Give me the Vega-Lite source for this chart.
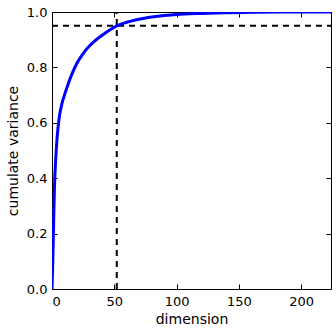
{
  "$schema": "https://vega.github.io/schema/vega-lite/v6.json",
  "width": 279,
  "height": 277,
  "autosize": {"type": "none"},
  "padding": {"left": 52, "top": 12, "right": 5, "bottom": 45},
  "background": "white",
  "config": {
    "view": {"stroke": "black", "strokeWidth": 1},
    "font": "DejaVu Sans",
    "axis": {
      "grid": false,
      "domainColor": "black",
      "tickColor": "black",
      "tickSize": -5,
      "labelFont": "DejaVu Sans",
      "labelFontSize": 13,
      "labelColor": "black",
      "titleFont": "DejaVu Sans",
      "titleFontSize": 14,
      "titleFontWeight": "normal",
      "titleColor": "black"
    }
  },
  "datasets": {
    "curve": [
      {"d": 0, "v": 0},
      {"d": 0.5, "v": 0.08},
      {"d": 1, "v": 0.17},
      {"d": 1.5, "v": 0.28},
      {"d": 2, "v": 0.37},
      {"d": 3, "v": 0.47},
      {"d": 4, "v": 0.54},
      {"d": 5, "v": 0.59},
      {"d": 6, "v": 0.625},
      {"d": 8, "v": 0.67},
      {"d": 10, "v": 0.70},
      {"d": 12, "v": 0.727},
      {"d": 15, "v": 0.765},
      {"d": 20, "v": 0.815},
      {"d": 25, "v": 0.85},
      {"d": 30, "v": 0.877},
      {"d": 35, "v": 0.898},
      {"d": 40, "v": 0.915},
      {"d": 46, "v": 0.934},
      {"d": 52, "v": 0.95},
      {"d": 60, "v": 0.963},
      {"d": 70, "v": 0.974},
      {"d": 80, "v": 0.982},
      {"d": 90, "v": 0.987},
      {"d": 100, "v": 0.991},
      {"d": 120, "v": 0.995},
      {"d": 140, "v": 0.9975},
      {"d": 160, "v": 0.9989},
      {"d": 180, "v": 0.9996},
      {"d": 200, "v": 0.9999},
      {"d": 224, "v": 1.0}
    ],
    "hline": [{"x1": 0, "x2": 224, "y": 0.95}],
    "vline": [{"x": 52, "y1": 0, "y2": 1}]
  },
  "layer": [
    {
      "data": {"name": "hline"},
      "mark": {"type": "rule", "color": "black", "strokeWidth": 2, "strokeDash": [6, 5]},
      "encoding": {
        "x": {"field": "x1", "type": "quantitative", "scale": {"domain": [0, 224], "nice": false, "zero": false},
              "axis": {"orient": "top", "labels": false, "title": null, "values": [0, 50, 100, 150, 200], "domain": false}},
        "x2": {"field": "x2"},
        "y": {"field": "y", "type": "quantitative", "scale": {"domain": [0, 1], "nice": false},
              "axis": {"orient": "right", "labels": false, "title": null, "values": [0, 0.2, 0.4, 0.6, 0.8, 1.0], "domain": false}}
      }
    },
    {
      "data": {"name": "vline"},
      "mark": {"type": "rule", "color": "black", "strokeWidth": 2, "strokeDash": [6, 5]},
      "encoding": {
        "x": {"field": "x", "type": "quantitative", "axis": null},
        "y": {"field": "y1", "type": "quantitative", "axis": null},
        "y2": {"field": "y2"}
      }
    },
    {
      "data": {"name": "curve"},
      "mark": {"type": "line", "color": "#0000ff", "strokeWidth": 3, "interpolate": "monotone", "clip": true},
      "encoding": {
        "x": {"field": "d", "type": "quantitative",
              "axis": {"orient": "bottom", "title": "dimension", "values": [0, 50, 100, 150, 200], "labelPadding": 11, "titlePadding": 4, "domain": false}},
        "y": {"field": "v", "type": "quantitative",
              "axis": {"orient": "left", "title": "cumulate variance", "values": [0, 0.2, 0.4, 0.6, 0.8, 1.0], "format": ".1f", "labelPadding": 10, "titlePadding": 6, "domain": false}}
      }
    }
  ],
  "resolve": {"axis": {"x": "independent", "y": "independent"}, "scale": {"x": "shared", "y": "shared"}}
}
